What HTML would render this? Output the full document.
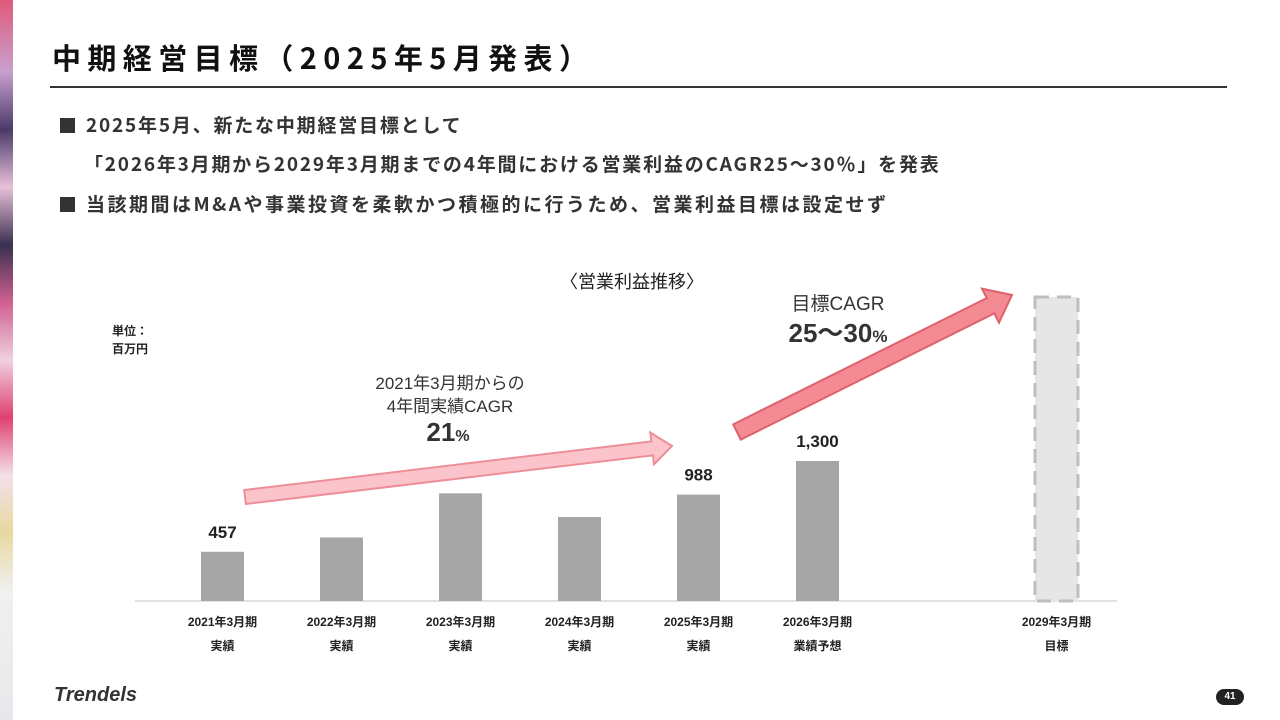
<!DOCTYPE html>
<html><head><meta charset="utf-8">
<style>
body{margin:0;width:1280px;height:720px;background:#fff;overflow:hidden;position:relative;font-family:"Liberation Sans","Noto Sans CJK JP",sans-serif;color:#222}
.strip{position:absolute;left:0;top:0;width:13px;height:720px;background:linear-gradient(180deg,#e05a7a 0%,#c8a0d0 10%,#4a3a6a 18%,#e8c0d8 26%,#3a3050 34%,#d06090 42%,#f0d0e0 50%,#e04070 58%,#f4e0ea 66%,#e8d8a0 74%,#f0f0f0 82%,#e8e8ec 100%)}
.abs{position:absolute;white-space:nowrap}
.jp{font-family:"Noto Sans CJK JP",sans-serif}
.sq{display:inline-block;width:15px;height:15px;background:#333;margin-right:11px;vertical-align:-1px}
</style></head><body>
<div class="strip"></div>
<div class="abs jp" style="left:52px;top:36px;font-size:29px;font-weight:bold;letter-spacing:6.4px;color:#111">中期経営目標（2025年5月発表）</div>
<div class="abs" style="left:50px;top:86px;width:1177px;height:2px;background:#333"></div>
<div class="abs jp" style="left:60px;top:111px;font-size:19px;font-weight:bold;color:#333;letter-spacing:1.8px"><span class="sq"></span>2025年5月、新たな中期経営目標として</div>
<div class="abs jp" style="left:84px;top:150px;font-size:19px;font-weight:bold;color:#333;letter-spacing:1.8px">「2026年3月期から2029年3月期までの4年間における営業利益のCAGR25～30％」を発表</div>
<div class="abs jp" style="left:60px;top:190px;font-size:19px;font-weight:bold;color:#333;letter-spacing:2.5px"><span class="sq"></span>当該期間はM&amp;Aや事業投資を柔軟かつ積極的に行うため、営業利益目標は設定せず</div>
<div class="abs jp" style="left:560px;top:268px;font-size:18px;color:#222">〈営業利益推移〉</div>
<div class="abs" style="left:112px;top:322px;font-size:12px;font-weight:bold;line-height:18px">単位：<br>百万円</div>
<svg id="chart" class="abs" style="left:0;top:0" width="1280" height="720"></svg>
<div class="abs" style="left:54px;top:684px;font-size:20px;font-weight:bold;color:#333;font-style:italic">Trendels</div>
<div class="abs" style="left:1216px;top:689px;width:28px;height:16px;border-radius:8px;background:#222;color:#fff;font-size:10px;font-weight:bold;text-align:center;line-height:16px">41</div>
<script>
const categories=["2021年3月期","2022年3月期","2023年3月期","2024年3月期","2025年3月期","2026年3月期","2029年3月期"];
const subLabels=["実績","実績","実績","実績","実績","業績予想","目標"];
const values=[457,590,1000,780,988,1300,null];
const shownLabels=["457","","","","988","1,300",""];
const NS="http://www.w3.org/2000/svg";
const svg=document.getElementById("chart");
const baseY=601, scale=140/1300, x0=201, step=119, bw=43;
const xPos=i=> i<6 ? x0+i*step : 1035;
const yPos=v=> baseY-v*scale;
function mk(t,a){const e=document.createElementNS(NS,t);for(const k in a)e.setAttribute(k,a[k]);svg.appendChild(e);return e;}
const ax=mk("line",{x1:135,y1:baseY,x2:1117,y2:baseY,stroke:"#d9d9d9","stroke-width":1.5});


categories.forEach((c,i)=>{
  const x=xPos(i);
  if(values[i]!=null){
    const r=mk("rect",{x:x,y:yPos(values[i]),width:bw,height:baseY-yPos(values[i]),fill:"#a6a6a6"});
    
    
    if(shownLabels[i]){
      const t=mk("text",{x:x+bw/2,y:yPos(values[i])-14,"text-anchor":"middle","font-size":17,"font-weight":"bold",fill:"#222"});
      t.textContent=shownLabels[i];
      
      
    }
  }else{
    const r=mk("rect",{x:x,y:297,width:bw,height:baseY-297,fill:"#e6e6e6",stroke:"#bfbfbf","stroke-width":3,"stroke-dasharray":"14 8"});
    
    
  }
  const t1=mk("text",{x:x+bw/2,y:626,"text-anchor":"middle","font-size":12,"font-weight":"bold",fill:"#222"});
  t1.textContent=c;
  
  
  const t2=mk("text",{x:x+bw/2,y:650,"text-anchor":"middle","font-size":12,"font-weight":"bold",fill:"#222"});
  t2.textContent=subLabels[i];
  
  
});
function arrow(x1,y1,x2,y2,w,hw,hl,fill,stroke){
  const dx=x2-x1,dy=y2-y1,L=Math.hypot(dx,dy),ux=dx/L,uy=dy/L,nx=-uy,ny=ux;
  const bx=x2-ux*hl,by=y2-uy*hl;
  const p=[[x1+nx*w/2,y1+ny*w/2],[bx+nx*w/2,by+ny*w/2],[bx+nx*hw,by+ny*hw],[x2,y2],[bx-nx*hw,by-ny*hw],[bx-nx*w/2,by-ny*w/2],[x1-nx*w/2,y1-ny*w/2]];
  return mk("polygon",{points:p.map(q=>q.join(",")).join(" "),fill:fill,stroke:stroke,"stroke-width":2});
}
const a1=arrow(245,497,672,446,14,16,20,"#fbc4cb","#ee8e98");


const a2=arrow(737,432,1012,295,17,19,24,"#f48a93","#e0606b");


function txt(x,y,s,size,name,bold){const t=mk("text",{x:x,y:y,"text-anchor":"middle","font-size":size,"font-weight":bold?"bold":"normal",fill:"#333"});t.innerHTML=s;return t;}
txt(450,389,"2021年3月期からの",17,"actual-cagr-caption-1");
txt(450,412,"4年間実績CAGR",17,"actual-cagr-caption-2");
txt(448,441,'21<tspan font-size="16">%</tspan>',26,"actual-cagr-value",true);
txt(838,310,"目標CAGR",19,"target-cagr-caption");
txt(838,342,'25～30<tspan font-size="17">%</tspan>',26,"target-cagr-value",true);
</script>
</body></html>
